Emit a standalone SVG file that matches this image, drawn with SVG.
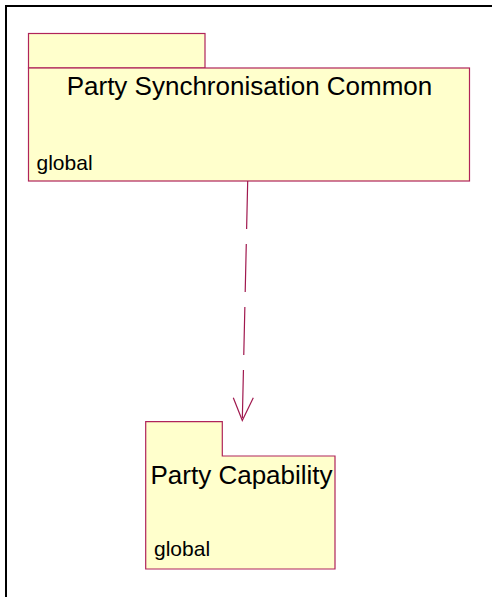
<svg xmlns="http://www.w3.org/2000/svg" width="492" height="597" viewBox="0 0 492 597">
<style>
.pkg{fill:#FFFFCC;stroke:#B0245A;stroke-width:1.2}
.title{font-family:"Liberation Sans",Arial,sans-serif;font-size:26px;fill:#000}
.vis{font-family:"Liberation Sans",Arial,sans-serif;font-size:21px;fill:#000}
.dep{fill:none;stroke:#A0184E;stroke-width:1.2}
</style>
<rect x="0" y="0" width="492" height="597" fill="#fff"/>
<rect x="6" y="6" width="600" height="600" fill="none" stroke="#000" stroke-width="2"/>
<g id="node-party-sync-common">
<rect class="pkg" x="28.5" y="33.5" width="176.5" height="34.5"/>
<rect class="pkg" x="28.5" y="68" width="441" height="113"/>
<text class="title" x="249.5" y="95" text-anchor="middle">Party Synchronisation Common</text>
<text class="vis" x="36.5" y="169.5">global</text>
</g>
<g id="node-party-capability">
<path class="pkg" d="M145.7,421.7 H222.3 V456 H335 V569 H145.7 Z"/>
<text class="title" x="150.5" y="484">Party Capability</text>
<text class="vis" x="154" y="556">global</text>
</g>
<g id="connectors">
<path class="dep" d="M247.7,181 L242.3,420.5" stroke-dasharray="48,15"/>
<path class="dep" d="M233.3,397.7 L242.3,420.5 L253.3,397.7"/>
</g>
</svg>
